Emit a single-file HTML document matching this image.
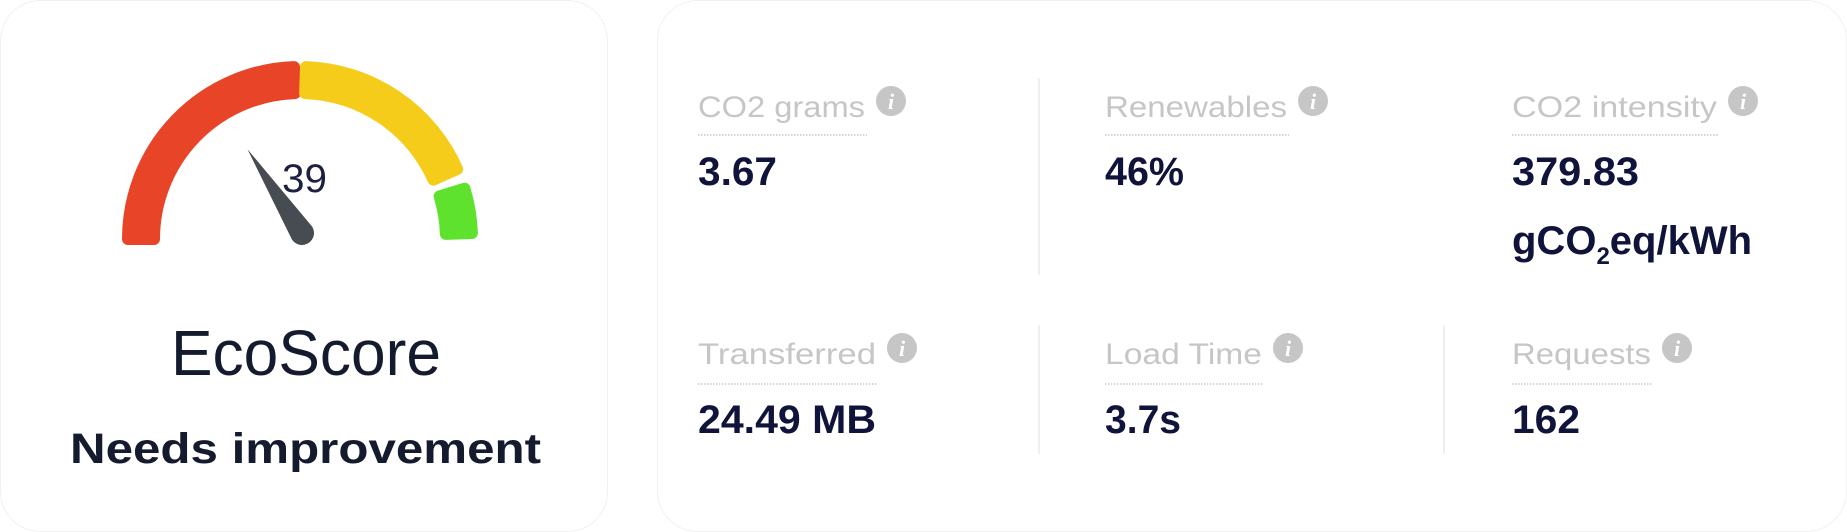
<!DOCTYPE html>
<html><head><meta charset="utf-8"><style>
html,body{margin:0;padding:0;background:#fff;}
svg{display:block;font-family:"Liberation Sans",sans-serif;}
</style></head><body>
<svg width="1847" height="532" viewBox="0 0 1847 532">
<rect x="0.5" y="0.5" width="607" height="531" rx="40" fill="#fff" stroke="#f1f1f1"/>
<rect x="657.5" y="0.5" width="1189" height="531" rx="40" fill="#fff" stroke="#f1f1f1"/>
<g id="gauge"></g>
<text x="282" y="192" font-size="40" fill="#1c2140" textLength="45" lengthAdjust="spacingAndGlyphs">39</text>
<text x="171" y="375" font-size="64" fill="#151b2e" textLength="270" lengthAdjust="spacingAndGlyphs">EcoScore</text>
<text x="70" y="463" font-size="43" font-weight="bold" fill="#151b2e" textLength="471" lengthAdjust="spacingAndGlyphs">Needs improvement</text>
<g stroke="#ececec" stroke-width="1.5">
<line x1="1039" y1="78" x2="1039" y2="275"/>
<line x1="1039" y1="325" x2="1039" y2="454"/>
<line x1="1444" y1="325" x2="1444" y2="454"/>
</g>
<g id="metrics"></g>
</svg>
<script>
const NS="http://www.w3.org/2000/svg";
const score=39;
const segStart=[180,88,17];
const segEnd=[92,24,2];
const segColor=["#e84428","#f5cc1a","#5ee22e"];
const segName=["gauge-red-segment","gauge-yellow-segment","gauge-green-segment"];
const cx=300,cy=239,rO=172,rI=146;
function pt(r,a){const t=a*Math.PI/180;return [cx+r*Math.cos(t),cy-r*Math.sin(t)];}
const g=document.getElementById('gauge');
for(let i=0;i<3;i++){
  const a0=segStart[i],a1=segEnd[i];
  const p1=pt(rO,a0),p2=pt(rO,a1),p3=pt(rI,a1),p4=pt(rI,a0);
  const p=document.createElementNS(NS,'path');
  p.setAttribute('d',`M${p1} A${rO},${rO} 0 0 1 ${p2} L${p3} A${rI},${rI} 0 0 0 ${p4} Z`);
  p.setAttribute('fill',segColor[i]);p.setAttribute('stroke',segColor[i]);
  p.setAttribute('stroke-width','12');p.setAttribute('stroke-linejoin','round');
  
  
  g.appendChild(p);
}
// needle
const ang=180-score/100*146;
const bx=302,by=233;
const t=ang*Math.PI/180;
const tip=[bx+100*Math.cos(t),by-100*Math.sin(t)];
const nx=-Math.sin(t),ny=-Math.cos(t);
const n=document.createElementNS(NS,'path');
n.setAttribute('d',`M${tip} L${bx+12*nx},${by+12*ny} A12,12 0 0 0 ${bx-12*nx},${by-12*ny} Z`);
n.setAttribute('fill','#474b52');


g.appendChild(n);

const labels=["CO2 grams","Renewables","CO2 intensity","Transferred","Load Time","Requests"];
const values=["3.67","46%","379.83","24.49 MB","3.7s","162"];
const colX=[698,1105,1512];
const labelW=[167,182,205,178,157,139];
const valueW=[79,79,127,178,76,68];
const rowLabelY=[117,364],rowLineY=[135,384],rowValY=[185,433];
const m=document.getElementById('metrics');
function mk(tag,attrs,txt){const e=document.createElementNS(NS,tag);for(const k in attrs)e.setAttribute(k,attrs[k]);if(txt!==undefined)e.textContent=txt;m.appendChild(e);return e;}
for(let i=0;i<6;i++){
  const x=colX[i%3],r=Math.floor(i/3);
  const l=mk('text',{x:x,y:rowLabelY[r],'font-size':30,fill:'#c6c6c6',textLength:labelW[i],lengthAdjust:'spacingAndGlyphs'},labels[i]);
  
  
  const ix=x+labelW[i]+26,iy=rowLabelY[r]-16;
  const c=mk('circle',{cx:ix,cy:iy,r:15,fill:'#c6c6c6'});
  
  
  const it=mk('text',{x:ix,y:iy+8,'font-size':22,'font-weight':'bold','font-style':'italic',fill:'#fff','text-anchor':'middle','font-family':'Liberation Serif,serif'},'i');
  
  
  const ln=mk('line',{x1:x,y1:rowLineY[r],x2:x+labelW[i]+2,y2:rowLineY[r],stroke:'#c6c6c6','stroke-width':1.5,'stroke-dasharray':'1.5 1.5'});
  
  
  const v=mk('text',{x:x,y:rowValY[r],'font-size':40,'font-weight':'bold',fill:'#10143a',textLength:valueW[i],lengthAdjust:'spacingAndGlyphs'},values[i]);
  
  
}
const u=mk('text',{x:1512,y:254,'font-size':40,'font-weight':'bold',fill:'#10143a'});
u.innerHTML='gCO<tspan font-size="24" dy="10">2</tspan><tspan dy="-10">eq/kWh</tspan>';


</script>
</body></html>
